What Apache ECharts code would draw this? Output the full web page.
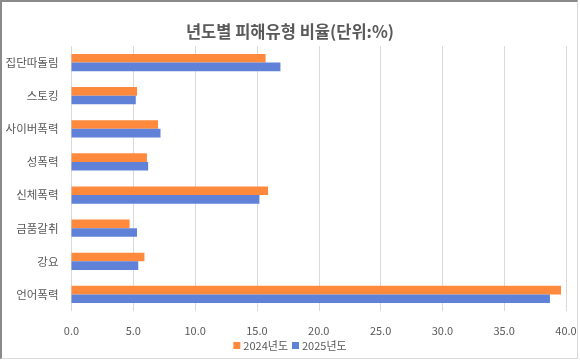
<!DOCTYPE html>
<html>
<head>
<meta charset="utf-8">
<script src="https://cdn.jsdelivr.net/npm/echarts@6/dist/echarts.min.js"></script>
<style>
html,body{margin:0;padding:0;background:#fff;}
#wrap{position:relative;width:580px;height:360px;}
#chart{width:580px;height:360px;}
#frame{position:absolute;left:0;top:0;width:578px;height:359px;box-sizing:border-box;border-left:2px solid #8a8a8a;border-top:2px solid #8a8a8a;border-right:1px solid #d9d9d9;border-bottom:1px solid #d9d9d9;pointer-events:none;}
</style>
</head>
<body>
<div id="wrap"><div id="chart"></div><div id="frame"></div></div>
<script>
const titleText = '년도별 피해유형 비율(단위:%)';
const categories = ['집단따돌림', '스토킹', '사이버폭력', '성폭력', '신체폭력', '금품갈취', '강요', '언어폭력'];
const seriesNames = ['2024년도', '2025년도'];
const values2024 = [15.7, 5.3, 7.0, 6.1, 15.9, 4.7, 5.9, 39.6];
const values2025 = [16.9, 5.2, 7.2, 6.2, 15.2, 5.3, 5.4, 38.7];
const xTicks = { min: 0, max: 40, interval: 5 };

const font = '"Noto Sans CJK KR", "Noto Sans", sans-serif';
const chart = echarts.init(document.getElementById('chart'), null, { renderer: 'canvas' });
chart.setOption({
  animation: false,
  textStyle: { fontFamily: font },
  title: {
    text: titleText,
    left: 'center',
    top: 18,
    textStyle: { fontFamily: font, fontSize: 16.5, fontWeight: 'bold', color: '#595959' }
  },
  legend: {
    data: seriesNames,
    left: 'center',
    top: 335,
    itemWidth: 7,
    itemHeight: 7,
    itemGap: 4,
    icon: 'rect',
    textStyle: { fontFamily: font, fontSize: 11, color: '#595959', padding: [0, 0, 0, -2] }
  },
  grid: { left: 71.5, right: 14, top: 46, bottom: 49, containLabel: false },
  xAxis: {
    type: 'value',
    min: xTicks.min,
    max: xTicks.max,
    interval: xTicks.interval,
    axisLine: { show: false },
    axisTick: { show: false },
    splitLine: { lineStyle: { color: '#d9d9d9', width: 1 } },
    axisLabel: { fontFamily: font, fontSize: 11, color: '#595959', margin: 14, formatter: v => v.toFixed(1) }
  },
  yAxis: {
    type: 'category',
    data: categories,
    inverse: true,
    axisLine: { show: false },
    axisTick: { show: false },
    axisLabel: { fontFamily: font, fontSize: 11.5, color: '#595959', margin: 13 }
  },
  series: [
    { name: seriesNames[0], type: 'bar', data: values2024, barWidth: 8.6, barGap: '0%', itemStyle: { color: '#FF8A3D' } },
    { name: seriesNames[1], type: 'bar', data: values2025, barWidth: 8.6, barGap: '0%', itemStyle: { color: '#5F82D8' } }
  ]
});
</script>
</body>
</html>
